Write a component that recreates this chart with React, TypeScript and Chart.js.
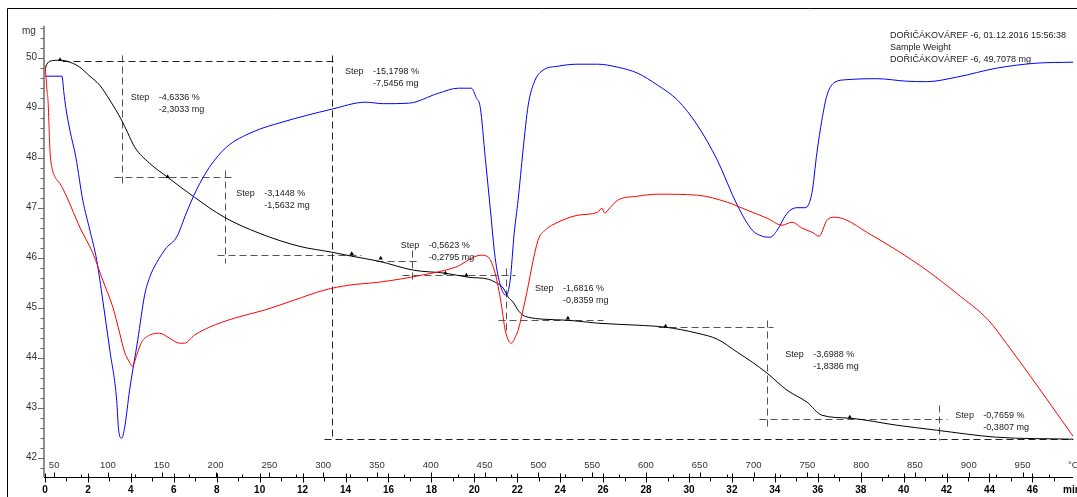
import React, { useEffect, useRef } from "react";
import { Chart, registerables } from "chart.js";
Chart.register(...registerables);

// ---- Data ----
// TG curve: time [min] vs mass [mg]
const tgTime = [0, 0.09, 0.23, 0.7, 1.16, 1.62, 2.09, 2.55, 3.02, 3.57, 3.85, 4.18, 4.87, 5.71, 6.96, 8.35, 9.98, 11.83, 13.36, 14.29, 15.55, 17.17, 18.65, 19.72, 20.65, 20.97, 21.35, 21.58, 21.81, 22.04, 22.27, 22.51, 23.2, 24.36, 25.75, 27.61, 28.91, 30.39, 31.32, 32.25, 32.95, 33.64, 34.57, 35.5, 36.19, 37.49, 39.68, 41.53, 44.32, 47.89];
const tgMass = [49.76, 49.87, 49.93, 49.95, 49.91, 49.81, 49.63, 49.45, 49.15, 48.75, 48.5, 48.21, 47.89, 47.61, 47.21, 46.81, 46.49, 46.23, 46.11, 46.03, 45.93, 45.75, 45.69, 45.61, 45.57, 45.51, 45.39, 45.21, 45.11, 44.95, 44.85, 44.81, 44.77, 44.75, 44.69, 44.65, 44.61, 44.49, 44.37, 44.11, 43.91, 43.69, 43.35, 43.11, 42.85, 42.79, 42.65, 42.55, 42.41, 42.37];

// Blue signal (drawn on the mass scale)
const blueTime = [0, 0.79, 0.88, 0.97, 1.16, 1.44, 1.76, 2.09, 2.41, 2.69, 3.02, 3.34, 3.43, 3.57, 3.71, 3.94, 4.32, 4.64, 4.87, 5.2, 5.66, 6.13, 6.59, 7.05, 7.66, 8.45, 9.65, 11.04, 13.36, 14.94, 15.78, 16.94, 18.33, 19.26, 19.86, 20.09, 20.28, 20.51, 20.74, 20.97, 21.21, 21.48, 21.67, 21.86, 22.04, 22.27, 22.51, 22.83, 23.2, 23.9, 24.83, 25.75, 26.68, 27.61, 28.54, 29.47, 30.39, 31.32, 32.25, 32.95, 33.41, 33.78, 34.11, 34.57, 35.03, 35.41, 35.73, 35.96, 36.19, 36.43, 36.8, 37.35, 38.75, 40.14, 41.07, 42.46, 44.32, 46.17, 47.89];
const blueVal = [49.63, 49.63, 49.3, 49.0, 48.55, 48.0, 47.15, 46.55, 45.95, 45.15, 44.15, 43.15, 42.55, 42.39, 42.6, 43.35, 44.35, 45.25, 45.6, 45.9, 46.2, 46.41, 46.9, 47.35, 47.81, 48.21, 48.51, 48.71, 48.97, 49.11, 49.08, 49.09, 49.29, 49.39, 49.39, 49.2, 49.0, 48.0, 47.0, 46.0, 45.45, 45.25, 45.55, 46.5, 47.15, 48.15, 49.05, 49.55, 49.75, 49.83, 49.87, 49.87, 49.81, 49.69, 49.45, 49.15, 48.65, 47.95, 47.05, 46.55, 46.43, 46.41, 46.55, 46.89, 47.0, 47.0, 47.3, 48.1, 48.75, 49.25, 49.51, 49.56, 49.58, 49.53, 49.52, 49.61, 49.79, 49.89, 49.91];

// Red signal (drawn on the mass scale)
const redTime = [0, 0.05, 0.1, 0.14, 0.19, 0.23, 0.32, 0.46, 0.56, 0.7, 1.02, 1.62, 2.23, 2.69, 3.16, 3.48, 3.71, 3.94, 4.08, 4.27, 4.5, 4.87, 5.34, 5.8, 6.26, 6.5, 6.96, 7.66, 8.82, 10.21, 11.6, 13.0, 14.15, 15.55, 17.54, 19.12, 20.32, 20.65, 20.97, 21.25, 21.44, 21.72, 21.95, 22.04, 22.37, 22.97, 23.3, 23.9, 24.83, 25.75, 25.94, 26.08, 26.22, 26.68, 27.61, 28.54, 30.39, 31.78, 32.71, 33.64, 34.34, 34.8, 35.27, 35.73, 36.06, 36.43, 36.8, 37.35, 38.28, 39.68, 41.07, 42.46, 43.95, 44.78, 45.94, 46.87, 47.89];
const redVal = [49.85, 49.6, 49.3, 49.15, 48.6, 48.15, 47.81, 47.62, 47.55, 47.48, 47.21, 46.61, 46.09, 45.55, 45.01, 44.49, 44.11, 43.91, 43.83, 44.05, 44.31, 44.45, 44.49, 44.39, 44.29, 44.29, 44.45, 44.61, 44.79, 44.95, 45.15, 45.35, 45.45, 45.51, 45.65, 45.81, 46.05, 46.01, 45.69, 45.09, 44.55, 44.29, 44.45, 44.55, 45.15, 46.35, 46.55, 46.71, 46.85, 46.91, 46.99, 46.89, 46.95, 47.15, 47.23, 47.27, 47.25, 47.11, 46.95, 46.79, 46.65, 46.71, 46.59, 46.51, 46.43, 46.75, 46.81, 46.75, 46.51, 46.15, 45.75, 45.29, 44.75, 44.29, 43.61, 43.05, 42.43];

// Evaluation markers on the TG curve
const markerTime = [0.7, 5.71, 14.29, 15.64, 18.65, 19.63, 24.36, 28.91, 37.49];
const markerMass = [49.96, 47.62, 46.08, 45.99, 45.69, 45.65, 44.79, 44.63, 42.81];

// Step evaluations
const stepPct = ["-4,6336 %", "-3,1448 %", "-15,1798 %", "-0,5623 %", "-1,6816 %", "-3,6988 %", "-0,7659 %"];
const stepMg = ["-2,3033 mg", "-1,5632 mg", "-7,5456 mg", "-0,2795 mg", "-0,8359 mg", "-1,8386 mg", "-0,3807 mg"];
const stepLabelT = [3.99, 8.91, 13.97, 16.57, 22.83, 34.48, 42.41];
const stepLabelV = [49.21, 47.29, 49.73, 46.25, 45.39, 44.07, 42.85];
// dashed evaluation lines: [t1, v1, t2, v2, strong]
const stepSegments: [number, number, number, number, number][] = [
  [0.8, 49.93, 13.46, 49.93, 1],
  [3.57, 50.05, 3.57, 47.45, 0],
  [3.2, 47.61, 8.82, 47.61, 0],
  [8.4, 47.75, 8.4, 45.89, 0],
  [8.03, 46.05, 14.71, 46.05, 0],
  [13.36, 50.05, 13.36, 42.36, 1],
  [12.99, 42.37, 47.89, 42.37, 1],
  [15.41, 45.93, 17.4, 45.93, 0],
  [17.08, 46.15, 17.08, 45.49, 0],
  [16.61, 45.65, 21.9, 45.65, 0],
  [21.48, 45.79, 21.48, 44.55, 0],
  [21.11, 44.75, 25.99, 44.75, 0],
  [28.54, 44.61, 33.92, 44.61, 0],
  [33.64, 44.75, 33.64, 42.59, 0],
  [33.27, 42.77, 42.0, 42.77, 0],
  [41.67, 43.05, 41.67, 42.35, 0],
];

// Axes
const minuteTicks = [0, 2, 4, 6, 8, 10, 12, 14, 16, 18, 20, 22, 24, 26, 28, 30, 32, 34, 36, 38, 40, 42, 44, 46];
const tempTicks = [50, 100, 150, 200, 250, 300, 350, 400, 450, 500, 550, 600, 650, 700, 750, 800, 850, 900, 950];
const massTicks = [42, 43, 44, 45, 46, 47, 48, 49, 50];
const headerLines = [
  "DOŘIČÁKOVÁREF -6, 01.12.2016 15:56:38",
  "Sample Weight",
  "DOŘIČÁKOVÁREF -6, 49,7078 mg",
];

const T_MIN = 0, T_MAX = 47.89;
const TEMP_MIN = 41.5, TEMP_MAX = 996.9;
const M_MIN = 41.614, M_MAX = 50.694;

const FONT = '"Liberation Sans", Arial, sans-serif';

const zip = (a: number[], b: number[]) => a.map((v, i) => ({ x: v, y: b[i] }));

const tgaPlugin = {
  id: "tga",
  beforeDatasetsDraw(chart: any) {
    const { ctx, scales } = chart;
    const x = scales.x, y = scales.y;
    ctx.save();
    ctx.lineWidth = 1;
    ctx.setLineDash([7, 4]);
    for (const [t1, v1, t2, v2, s] of stepSegments) {
      ctx.strokeStyle = s ? "#222" : "#555";
      ctx.beginPath();
      ctx.moveTo(Math.round(x.getPixelForValue(t1)) + 0.5, Math.round(y.getPixelForValue(v1)) + 0.5);
      ctx.lineTo(Math.round(x.getPixelForValue(t2)) + 0.5, Math.round(y.getPixelForValue(v2)) + 0.5);
      ctx.stroke();
    }
    ctx.restore();
  },
  afterDraw(chart: any) {
    const { ctx, scales, chartArea } = chart;
    const x = scales.x, y = scales.y, xt = scales.xt;
    ctx.save();
    // frame
    ctx.strokeStyle = "#000";
    ctx.lineWidth = 1;
    ctx.beginPath();
    ctx.moveTo(7.5, 497);
    ctx.lineTo(7.5, 8.5);
    ctx.lineTo(1077, 8.5);
    ctx.stroke();

    // Y axis
    const ax = chartArea.left - 1;
    ctx.strokeStyle = "#6a6a6a";
    ctx.lineWidth = 1.5;
    ctx.beginPath();
    ctx.moveTo(ax, y.getPixelForValue(50.64));
    ctx.lineTo(ax, chartArea.bottom);
    ctx.stroke();
    ctx.lineWidth = 1;
    for (let k = 209; k <= 253; k++) {
      const v = k / 5;
      const py = Math.round(y.getPixelForValue(v)) + 0.5;
      const len = k % 5 === 0 ? 6 : 3.5;
      ctx.beginPath();
      ctx.moveTo(ax - len, py);
      ctx.lineTo(ax, py);
      ctx.stroke();
    }
    ctx.fillStyle = "#333";
    ctx.font = `10px ${FONT}`;
    ctx.textAlign = "right";
    ctx.textBaseline = "middle";
    for (const m of massTicks) ctx.fillText(String(m), ax - 7, y.getPixelForValue(m));
    ctx.textAlign = "left";
    ctx.fillText("mg", 22, 31);

    // X axis
    const by = Math.round(chartArea.bottom) + 0.5;
    ctx.strokeStyle = "#000";
    ctx.beginPath();
    ctx.moveTo(ax, by);
    ctx.lineTo(chartArea.right, by);
    ctx.stroke();
    for (let m = 0; m <= 47; m++) {
      const px = Math.round(x.getPixelForValue(m)) + 0.5;
      ctx.beginPath();
      if (m % 2 === 0) {
        ctx.moveTo(px, by - 4);
        ctx.lineTo(px, by + 5);
      } else {
        ctx.moveTo(px, by);
        ctx.lineTo(px, by + 4);
      }
      ctx.stroke();
    }
    for (let T = 50; T <= 975; T += 25) {
      const px = Math.round(xt.getPixelForValue(T)) + 0.5;
      ctx.beginPath();
      ctx.moveTo(px, by - (T % 50 === 0 ? 5 : 3));
      ctx.lineTo(px, by);
      ctx.stroke();
    }
    ctx.fillStyle = "#000";
    ctx.font = `bold 10px ${FONT}`;
    ctx.textAlign = "center";
    ctx.textBaseline = "middle";
    for (const m of minuteTicks) ctx.fillText(String(m), x.getPixelForValue(m), 490);
    ctx.textAlign = "left";
    ctx.fillText("min", 1063, 490);
    ctx.fillStyle = "#333";
    ctx.font = `9.5px ${FONT}`;
    ctx.textAlign = "center";
    for (const T of tempTicks) ctx.fillText(String(T), xt.getPixelForValue(T), 465);
    ctx.textAlign = "left";
    ctx.fillText("°C", 1068, 465);

    // Step labels
    ctx.fillStyle = "#222";
    ctx.font = `9px ${FONT}`;
    ctx.textAlign = "left";
    ctx.textBaseline = "middle";
    for (let i = 0; i < stepPct.length; i++) {
      const px = x.getPixelForValue(stepLabelT[i]);
      const py = y.getPixelForValue(stepLabelV[i]);
      ctx.fillText("Step", px, py);
      ctx.fillText(stepPct[i], px + 28, py);
      ctx.fillText(stepMg[i], px + 28, py + 12.5);
    }

    // Header
    ctx.fillStyle = "#222";
    headerLines.forEach((l, i) => ctx.fillText(l, 890, 36 + i * 12));
    ctx.restore();
  },
};

export default function App() {
  const ref = useRef<HTMLCanvasElement | null>(null);
  useEffect(() => {
    if (!ref.current) return;
    const chart = new Chart(ref.current, {
      type: "line",
      data: {
        datasets: [
          {
            label: "Signal 2",
            data: zip(redTime, redVal),
            borderColor: "#ff0000",
            borderWidth: 1,
            pointRadius: 0,
            cubicInterpolationMode: "monotone",
            fill: false,
          },
          {
            label: "Signal 1",
            data: zip(blueTime, blueVal),
            borderColor: "#0000ff",
            borderWidth: 1,
            pointRadius: 0,
            cubicInterpolationMode: "monotone",
            fill: false,
          },
          {
            label: "Sample Weight",
            data: zip(tgTime, tgMass),
            borderColor: "#000000",
            borderWidth: 1,
            pointRadius: 0,
            cubicInterpolationMode: "monotone",
            fill: false,
          },
          {
            label: "Markers",
            data: zip(markerTime, markerMass),
            showLine: false,
            pointStyle: "triangle",
            pointRadius: 2.5,
            pointBackgroundColor: "#000",
            pointBorderColor: "#000",
            borderWidth: 0,
          },
        ],
      },
      options: {
        responsive: false,
        animation: false,
        devicePixelRatio: 1,
        layout: { padding: { left: 45, right: 0, top: 23, bottom: 20 } },
        plugins: { legend: { display: false }, tooltip: { enabled: false } },
        scales: {
          x: { type: "linear", min: T_MIN, max: T_MAX, display: false },
          xt: { type: "linear", axis: "x", min: TEMP_MIN, max: TEMP_MAX, display: false },
          y: { type: "linear", min: M_MIN, max: M_MAX, display: false },
        },
      } as any,
      plugins: [tgaPlugin],
    });
    return () => chart.destroy();
  }, []);
  return (
    <div style={{ position: "fixed", left: 0, top: 0, width: 1077, height: 497, background: "#fff" }}>
      <canvas ref={ref} width={1077} height={497} style={{ display: "block" }} />
    </div>
  );
}
